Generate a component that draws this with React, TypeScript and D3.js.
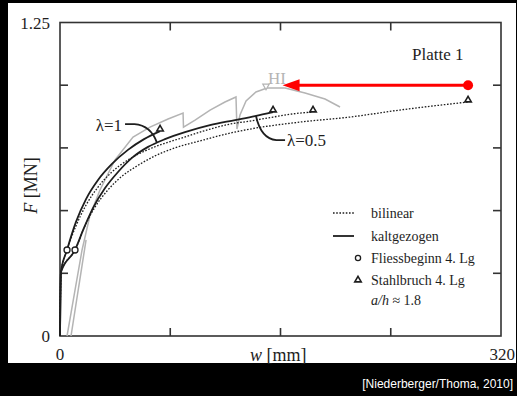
import React from 'react'
import * as d3 from 'd3'

const width = 517
const height = 396

const panel = { left: 8, top: 3, right: 516, bottom: 363 }
const plot = { left: 60, right: 501, top: 22.5, bottom: 336 }

const serif = 'Liberation Serif, Times New Roman, serif'
const ink = '#1e1e1e'
const grey = '#b4b4b4'

const wDomain = [0, 320]
const fDomain = [0, 1.25]
const wTicks = [80, 160, 240]
const fTicks = [0.25, 0.5, 0.75, 1.0]

// [w mm, F MN]
const kaltLambda1 = [
  [0, 0], [0.7, 0.255], [5.1, 0.343], [11.6, 0.455], [18.9, 0.546], [27.6, 0.622],
  [37.7, 0.686], [49.3, 0.742], [61.0, 0.785], [72.6, 0.817],
]

const kaltLambda05 = [
  [0, 0], [0.7, 0.255], [10.9, 0.343], [17.4, 0.431], [23.9, 0.51], [32.7, 0.59],
  [42.1, 0.654], [52.2, 0.71], [63.9, 0.754], [76.2, 0.785], [90.7, 0.813],
  [108.8, 0.841], [127.0, 0.861], [141.5, 0.877], [154.6, 0.893],
]

const bilinLambda1 = [
  [0, 0], [0.7, 0.255], [5.1, 0.343], [11.6, 0.439], [18.9, 0.522], [27.6, 0.594],
  [37.7, 0.654], [49.3, 0.702], [61.7, 0.738], [72.6, 0.762], [83.4, 0.781],
  [101.6, 0.813], [123.4, 0.845], [137.9, 0.857], [154.6, 0.873], [174.2, 0.889],
  [183.6, 0.893],
]

const bilinLambda05 = [
  [0, 0], [0.7, 0.255], [10.9, 0.343], [18.1, 0.439], [25.4, 0.514], [34.1, 0.578],
  [44.3, 0.634], [55.9, 0.678], [68.9, 0.718], [83.4, 0.75], [101.6, 0.778],
  [123.4, 0.809], [137.9, 0.825], [174.2, 0.853], [210.4, 0.873], [246.7, 0.901],
  [296.1, 0.933],
]

// test curve (grey), with the load drops
const testCurve = [
  [5.1, 0], [10.9, 0.183], [16.0, 0.343], [21.8, 0.482], [29.0, 0.582], [39.9, 0.702],
  [53.0, 0.793], [65.3, 0.833], [78.4, 0.865], [89.3, 0.889], [89.6, 0.833],
  [98.0, 0.861], [108.9, 0.901], [119.7, 0.933], [127.7, 0.953], [128.4, 0.825],
  [130.6, 0.881], [135.0, 0.937], [142.2, 0.973], [150.2, 0.989], [163.3, 0.989],
  [177.8, 0.969], [192.3, 0.945], [203.2, 0.913],
]
const testUnload = [[8.0, 0], [18.9, 0.383]]

const yieldPoints = [[5.1, 0.343], [10.9, 0.343]]
const rupturePoints = [[72.6, 0.817], [154.6, 0.893], [183.6, 0.893], [296.1, 0.933]]
const hiPoint = [150.2, 0.989]
const arrow = { from: [296.1, 1.0], to: [161.5, 1.0] }

const legendItems = ['bilinear', 'kaltgezogen', 'Fliessbeginn 4. Lg', 'Stahlbruch 4. Lg']

export default function App() {
  const x = d3.scaleLinear().domain(wDomain).range([plot.left, plot.right])
  const y = d3.scaleLinear().domain(fDomain).range([plot.bottom, plot.top])

  const smooth = d3
    .line<number[]>()
    .x((d) => x(d[0]))
    .y((d) => y(d[1]))
    .curve(d3.curveMonotoneX)
  const straight = d3
    .line<number[]>()
    .x((d) => x(d[0]))
    .y((d) => y(d[1]))

  const tri = d3.symbol(d3.symbolTriangle, 18)()

  // leader lines for lambda labels
  const lead1 = d3.path()
  lead1.moveTo(x(47.2), y(0.845))
  lead1.lineTo(x(54), y(0.845))
  lead1.quadraticCurveTo(x(66), y(0.84), x(70.4), y(0.77))
  const lead05 = d3.path()
  lead05.moveTo(x(163.3), y(0.781))
  lead05.lineTo(x(157), y(0.781))
  lead05.quadraticCurveTo(x(146), y(0.785), x(142.2), y(0.877))

  const lx = 333
  const ly = [213, 236, 258, 280]

  return (
    <svg width={width} height={height} style={{ position: 'absolute', left: 0, top: 0 }}>
      <rect x={0} y={0} width={width} height={height} fill="#000" />
      <rect
        x={panel.left}
        y={panel.top}
        width={panel.right - panel.left}
        height={panel.bottom - panel.top}
        fill="#fff"
      />

      {/* frame and inward ticks */}
      <rect
        x={plot.left}
        y={plot.top}
        width={plot.right - plot.left}
        height={plot.bottom - plot.top}
        fill="none"
        stroke="#333"
        strokeWidth={1.6}
      />
      {wTicks.map((t) => (
        <g key={'wt' + t} stroke="#333" strokeWidth={1.6}>
          <line x1={x(t)} x2={x(t)} y1={plot.bottom} y2={plot.bottom - 8} />
          <line x1={x(t)} x2={x(t)} y1={plot.top} y2={plot.top + 8} />
        </g>
      ))}
      {fTicks.map((t) => (
        <g key={'ft' + t} stroke="#333" strokeWidth={1.6}>
          <line x1={plot.left} x2={plot.left + 8} y1={y(t)} y2={y(t)} />
          <line x1={plot.right} x2={plot.right - 8} y1={y(t)} y2={y(t)} />
        </g>
      ))}

      <g fontFamily={serif} fill={ink} fontSize={17}>
        <text x={plot.left - 10} y={y(1.25) + 6} textAnchor="end">1.25</text>
        <text x={plot.left - 10} y={y(0) + 6} textAnchor="end">0</text>
        <text x={x(0)} y={360} textAnchor="middle">0</text>
        <text x={515} y={360} textAnchor="end">320</text>
        <text x={250} y={361} fontSize={18}>
          <tspan fontStyle="italic">w</tspan> [mm]
        </text>
        <text transform={`translate(37, ${y(0.6)}) rotate(-90)`} textAnchor="middle" fontSize={18}>
          <tspan fontStyle="italic">F</tspan> [MN]
        </text>
        <text x={412} y={60} fontSize={17}>Platte 1</text>
      </g>

      {/* test curve */}
      <path d={straight(testCurve) ?? ''} fill="none" stroke={grey} strokeWidth={1.5} />
      <path d={straight(testUnload) ?? ''} fill="none" stroke={grey} strokeWidth={1.5} />
      <path
        d={tri ?? ''}
        transform={`translate(${x(hiPoint[0]) - 1}, ${y(hiPoint[1]) - 2}) rotate(180)`}
        fill="#fff"
        stroke={grey}
        strokeWidth={1.2}
      />
      <text x={x(hiPoint[0]) + 1} y={y(hiPoint[1]) - 4} fontFamily={serif} fontSize={17} fill={grey}>
        HI
      </text>

      {/* model curves */}
      {[bilinLambda1, bilinLambda05].map((d, i) => (
        <path
          key={'b' + i}
          d={smooth(d) ?? ''}
          fill="none"
          stroke={ink}
          strokeWidth={1.3}
          strokeDasharray="1.6 1.6"
        />
      ))}
      {[kaltLambda1, kaltLambda05].map((d, i) => (
        <path key={'k' + i} d={smooth(d) ?? ''} fill="none" stroke={ink} strokeWidth={1.8} />
      ))}

      {yieldPoints.map((d, i) => (
        <circle key={'y' + i} cx={x(d[0])} cy={y(d[1])} r={3} fill="#fff" stroke={ink} strokeWidth={1.3} />
      ))}
      {rupturePoints.map((d, i) => (
        <path
          key={'r' + i}
          d={tri ?? ''}
          transform={`translate(${x(d[0])}, ${y(d[1]) - 2})`}
          fill="#fff"
          stroke={ink}
          strokeWidth={1.6}
        />
      ))}

      {/* lambda labels */}
      <path d={lead1.toString()} fill="none" stroke={ink} strokeWidth={1.8} />
      <path d={lead05.toString()} fill="none" stroke={ink} strokeWidth={1.8} />
      <g fontFamily={serif} fontSize={17} fill={ink}>
        <text x={x(45)} y={y(0.817)} textAnchor="end">λ=1</text>
        <text x={x(164.7)} y={y(0.758)}>λ=0.5</text>
      </g>

      {/* red arrow */}
      <line
        x1={x(arrow.from[0])}
        x2={x(arrow.to[0]) + 14}
        y1={y(arrow.from[1])}
        y2={y(arrow.to[1])}
        stroke="#ff0000"
        strokeWidth={3}
      />
      <path
        d={`M${x(arrow.to[0])},${y(arrow.to[1])} l17,-6 l0,12 Z`}
        fill="#ff0000"
      />
      <circle cx={x(arrow.from[0])} cy={y(arrow.from[1])} r={5} fill="#ff0000" />

      {/* legend */}
      <line x1={lx} x2={lx + 21} y1={ly[0]} y2={ly[0]} stroke={ink} strokeWidth={1.3} strokeDasharray="1.6 1.6" />
      <line x1={lx} x2={lx + 21} y1={ly[1]} y2={ly[1]} stroke={ink} strokeWidth={1.8} />
      <circle cx={lx + 25} cy={ly[2]} r={2.6} fill="#fff" stroke={ink} strokeWidth={1.3} />
      <path d={tri ?? ''} transform={`translate(${lx + 25}, ${ly[3]})`} fill="#fff" stroke={ink} strokeWidth={1.6} />
      <g fontFamily={serif} fontSize={14} fill={ink}>
        {legendItems.map((t, i) => (
          <text key={t} x={371} y={ly[i] + 5}>
            {t}
          </text>
        ))}
        <text x={371} y={305}>
          <tspan fontStyle="italic">a/h</tspan> ≈ 1.8
        </text>
      </g>

      <text
        x={513}
        y={388}
        textAnchor="end"
        fontFamily="Liberation Sans, Arial, sans-serif"
        fontSize={12}
        fill="#fff"
      >
        [Niederberger/Thoma, 2010]
      </text>
    </svg>
  )
}
